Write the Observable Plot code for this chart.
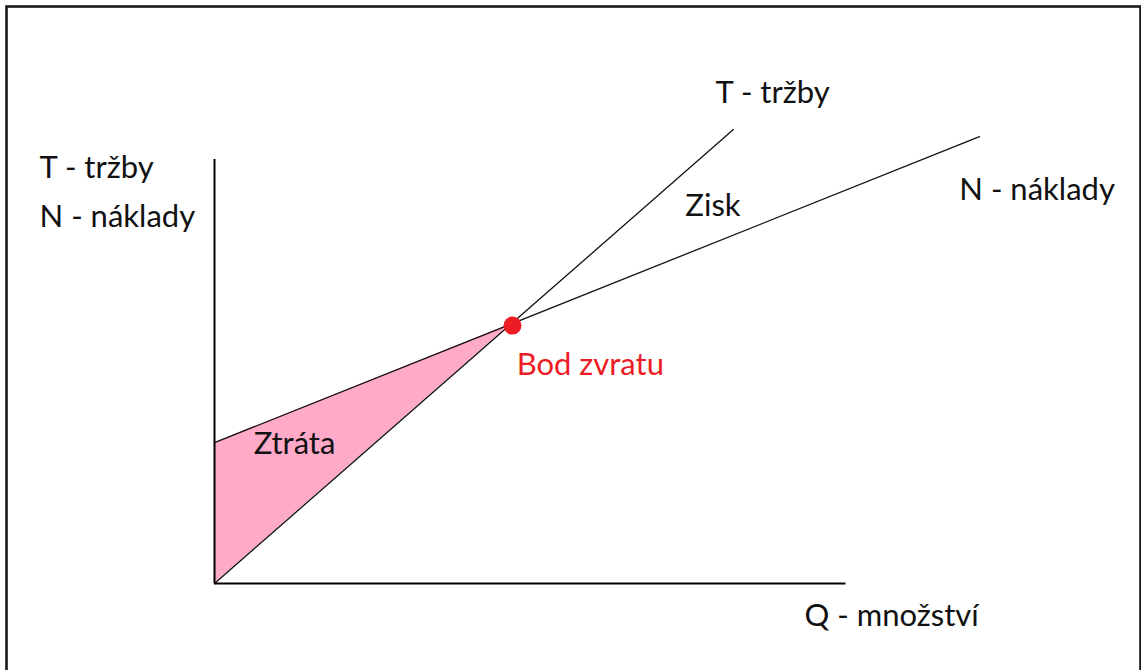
<!DOCTYPE html>
<html>
<head>
<meta charset="utf-8">
<script src="https://cdn.jsdelivr.net/npm/d3@7"></script>
<script src="https://cdn.jsdelivr.net/npm/@observablehq/plot@0.6"></script>
<style>
  html, body { margin: 0; padding: 0; background: #fff; }
  svg { display: block; }
</style>
</head>
<body>
<div id="chart"></div>
<script>
// Break-even chart (bod zvratu): revenue T = p*Q, costs N = F + v*Q
// Revenue line (T - tržby)
const revenueQ = [0, 175];
const revenueT = [0, 153.1];
// Cost line (N - náklady)
const costQ = [0, 258];
const costN = [47.5, 150.7];
// Loss region (Ztráta) between the two lines up to break-even
const lossQ = [0, 100];
const lossT = [0, 87.5];
const lossN = [47.5, 87.5];
// Break-even point
const breakEvenQ = [100];
const breakEvenV = [87.5];
// Axis extents
const qAxisMax = 213;
const vAxisMax = 143;
// Text labels
const labelText = ["T - tržby", "N - náklady", "T - tržby", "N - náklady", "Zisk", "Ztráta", "Q - množství"];
const labelQ = [-59, -59, 169, 251.2, 158.8, 13.2, 199];
const labelV = [136.9, 120.4, 161.9, 129.5, 123.8, 43.8, -14.5];
const bpText = ["Bod zvratu"];
const bpQ = [101.9];
const bpV = [70.2];

const revenue = revenueQ.map((q, i) => ({q, v: revenueT[i]}));
const cost = costQ.map((q, i) => ({q, v: costN[i]}));
const loss = lossQ.map((q, i) => ({q, t: lossT[i], n: lossN[i]}));
const be = breakEvenQ.map((q, i) => ({q, v: breakEvenV[i]}));
const labels = labelText.map((text, i) => ({text, q: labelQ[i], v: labelV[i]}));
const bp = bpText.map((text, i) => ({text, q: bpQ[i], v: bpV[i]}));

const font = "Lato, 'Open Sans', sans-serif";

const chart = Plot.plot({
  width: 1141,
  height: 670,
  margin: 0,
  style: {background: "#fff", fontFamily: font},
  x: {domain: [0, 100], range: [214, 510.5], axis: null},
  y: {domain: [0, 100], range: [583, 286.5], axis: null},
  marks: [
    Plot.frame({stroke: "#1a1a1a", strokeWidth: 2.6, insetLeft: 6, insetTop: 6, insetRight: 1, insetBottom: -20}),
    Plot.area(loss, {x1: "q", y1: "t", y2: "n", fill: "#ffaac9"}),
    Plot.line(revenue, {x: "q", y: "v", stroke: "#111", strokeWidth: 1.3}),
    Plot.line(cost, {x: "q", y: "v", stroke: "#111", strokeWidth: 1.3}),
    Plot.ruleY([0], {x1: 0, x2: qAxisMax, stroke: "#000", strokeWidth: 2}),
    Plot.ruleX([0], {y1: 0, y2: vAxisMax, stroke: "#000", strokeWidth: 2}),
    Plot.dot(be, {x: "q", y: "v", r: 9, fill: "#ed1c24", dx: 1.5, dy: 1.5}),
    Plot.text(labels, {x: "q", y: "v", text: "text", textAnchor: "start", lineAnchor: "bottom", fontSize: 31, fill: "#111"}),
    Plot.text(bp, {x: "q", y: "v", text: "text", textAnchor: "start", lineAnchor: "bottom", fontSize: 31, fill: "#ed1c24"})
  ]
});
document.getElementById("chart").appendChild(chart);
</script>
</body>
</html>
